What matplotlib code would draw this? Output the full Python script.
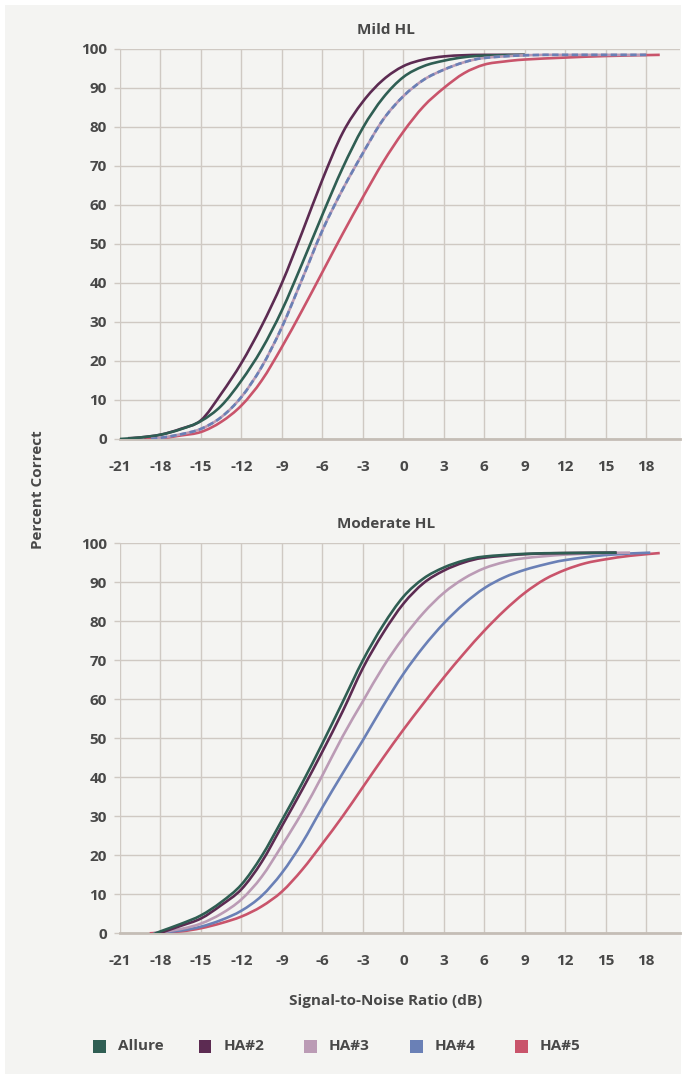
import matplotlib
matplotlib.use('Agg')
import matplotlib.pyplot as plt
import numpy as np
from matplotlib.patches import Rectangle, PathPatch
from matplotlib.path import Path

# ---- data (SNR in dB, percent correct) ----
series_names = ["Allure", "HA#2", "HA#3", "HA#4", "HA#5"]
series_colors = ["#2f5e53", "#5c2b52", "#bb9bb5", "#6a80b6", "#c9546b"]

x_ticks = [-21, -18, -15, -12, -9, -6, -3, 0, 3, 6, 9, 12, 15, 18]
y_ticks = [0, 10, 20, 30, 40, 50, 60, 70, 80, 90, 100]

# Mild HL
mild_x_allure = [-21, -19.5, -18, -16.5, -15, -13.5, -12, -10.5, -9, -7.5, -6, -4.5, -3, -1.5, 0, 1.5, 3, 4.5, 6, 9]
mild_allure = [0, 0.4, 1.1, 2.5, 4.6, 8.5, 15, 23, 33, 45, 57.5, 69.5, 79.8, 87.5, 92.8, 95.6, 97, 97.9, 98.3, 98.5]

mild_x_ha2 = [-20.4, -19.5, -18, -16.5, -15, -13.5, -12, -10.5, -9, -7.5, -6, -4.5, -3, -1.5, 0, 1.5, 3, 4.5, 6, 9]
mild_ha2 = [0.2, 0.4, 1.1, 2.6, 4.8, 11.6, 19.5, 29, 40, 53, 66.5, 78.5, 86.5, 92.1, 95.6, 97.3, 98.1, 98.4, 98.5, 98.5]

mild_x_ha3 = [-18.7, -18, -16.5, -15, -13.5, -12, -10.5, -9, -7.5, -6, -4.5, -3, -1.5, 0, 1.5, 3, 4.5, 6, 9, 12, 15, 18]
mild_ha3 = [0, 0.3, 1.2, 2.6, 5.6, 10.8, 18.5, 28.7, 41, 53.5, 64, 73.3, 81.9, 87.9, 92.1, 94.7, 96.6, 97.7, 98.4, 98.5, 98.5, 98.5]

# HA#4 overlaps HA#3 in the mild panel (drawn dashed on top)
mild_x_ha4 = [-18.7, -18, -16.5, -15, -13.5, -12, -10.5, -9, -7.5, -6, -4.5, -3, -1.5, 0, 1.5, 3, 4.5, 6, 9, 12, 15, 18]
mild_ha4 = [0, 0.3, 1.2, 2.6, 5.6, 10.8, 18.5, 28.7, 41, 53.5, 64, 73.3, 81.9, 87.9, 92.1, 94.7, 96.6, 97.7, 98.4, 98.5, 98.5, 98.5]

mild_x_ha5 = [-19.2, -18, -16.5, -15, -13.5, -12, -10.5, -9, -7.5, -6, -4.5, -3, -1.5, 0, 1.5, 3, 4.5, 6, 7.5, 9, 12, 15, 19]
mild_ha5 = [0, 0.2, 0.9, 1.8, 4.4, 8.6, 15, 23.6, 33, 42.8, 52.6, 62, 71, 78.8, 85.3, 90, 93.8, 96, 96.8, 97.3, 97.8, 98.2, 98.5]

# Moderate HL
mod_x_allure = [-18.7, -18, -16.5, -15, -13.5, -12, -10.5, -9, -7.5, -6, -4.5, -3, -1.5, 0, 1.5, 3, 4.5, 6, 9, 12, 15.8]
mod_allure = [-0.5, 0.5, 2.4, 4.6, 8, 12.5, 19.8, 29, 38.5, 48.7, 59.3, 70, 79, 86.3, 91, 93.8, 95.6, 96.6, 97.3, 97.5, 97.6]

mod_x_ha2 = [-18.4, -18, -16.5, -15, -13.5, -12, -10.5, -9, -7.5, -6, -4.5, -3, -1.5, 0, 1.5, 3, 4.5, 6, 9, 12, 15.8]
mod_ha2 = [-0.5, 0.1, 1.9, 3.8, 7.2, 11.3, 18.3, 27.5, 36.8, 46.6, 56.9, 68, 77, 84.5, 89.8, 93, 95.1, 96.3, 97.2, 97.5, 97.6]

mod_x_ha3 = [-18.5, -16.5, -15, -13.5, -12, -10.5, -9, -7.5, -6, -4.5, -3, -1.5, 0, 1.5, 3, 4.5, 6, 7.5, 9, 12, 15, 16.8]
mod_ha3 = [0, 1.1, 2.5, 5, 8.7, 14.5, 22.5, 31, 40.5, 50.5, 59.5, 68.3, 75.8, 82.2, 87.3, 91, 93.6, 95.2, 96.2, 97.1, 97.5, 97.6]

mod_x_ha4 = [-18.5, -16.5, -15, -13.5, -12, -10.5, -9, -7.5, -6, -4.5, -3, -1.5, 0, 1.5, 3, 4.5, 6, 7.5, 9, 10.5, 12, 15, 18.3]
mod_ha4 = [0, 0.7, 1.7, 3.4, 5.8, 9.6, 15.5, 23.2, 32.3, 41, 49.5, 58.3, 66.5, 73.5, 79.5, 84.5, 88.5, 91.3, 93.2, 94.6, 95.7, 97, 97.6]

mod_x_ha5 = [-18.8, -16.5, -15, -13.5, -12, -10.5, -9, -7.5, -6, -4.5, -3, -1.5, 0, 1.5, 3, 4.5, 6, 7.5, 9, 10.5, 12, 13.5, 15, 16.8, 19]
mod_ha5 = [0, 0.5, 1.3, 2.6, 4.3, 6.9, 10.7, 16.3, 23, 30, 37.5, 45, 52.2, 59, 65.6, 71.8, 77.6, 82.8, 87.3, 90.8, 93.2, 94.9, 95.9, 96.8, 97.5]

# ---- styling ----
BG = "#f4f4f2"
GRID = "#cfc9c3"
BASE = "#c4bdb6"
TXT = "#484848"
FS = 11
plt.rcParams['font.family'] = ["Open Sans", "DejaVu Sans"]
plt.rcParams['axes.unicode_minus'] = False

W, H = 686, 1079
fig = plt.figure(figsize=(W / 100, H / 100), dpi=100, facecolor="white")
fig.patches.append(Rectangle((5 / W, 5 / H), 1 - 10 / W, 1 - 10 / H,
                             transform=fig.transFigure, facecolor=BG,
                             edgecolor="none", zorder=-10))


def style_axes(ax):
    ax.set_facecolor(BG)
    ax.set_xlim(-21, 20.5)
    ax.set_ylim(0, 100)
    ax.set_xticks(x_ticks)
    ax.set_yticks(y_ticks)
    ax.grid(True, color=GRID, linewidth=1.0)
    ax.set_axisbelow(True)
    for side in ["top", "right", "left"]:
        ax.spines[side].set_visible(False)
    ax.spines["bottom"].set_color(BASE)
    ax.spines["bottom"].set_linewidth(2.0)
    ax.spines["bottom"].set_zorder(1.5)
    ax.tick_params(axis="x", length=0, pad=15, labelsize=FS, labelcolor=TXT)
    ax.tick_params(axis="y", length=4.5, width=1.0, color=GRID, pad=5,
                   labelsize=FS, labelcolor=TXT)
    for lab in ax.get_xticklabels() + ax.get_yticklabels():
        lab.set_fontweight("bold")


def smooth_line(ax, xs, ys, color, lw=1.9, ls="solid", z=3):
    # smoothed line through the points, like a spreadsheet "smoothed line"
    pts = np.column_stack([xs, ys]).astype(float)
    n = len(pts)
    verts = [pts[0]]
    codes = [Path.MOVETO]
    for i in range(n - 1):
        p0 = pts[i - 1] if i > 0 else pts[i]
        p1, p2 = pts[i], pts[i + 1]
        p3 = pts[i + 2] if i + 2 < n else pts[i + 1]
        verts += [p1 + (p2 - p0) / 6, p2 - (p3 - p1) / 6, p2]
        codes += [Path.CURVE4] * 3
    ax.add_patch(PathPatch(Path(verts, codes), fill=False, edgecolor=color,
                           lw=lw, linestyle=ls, zorder=z, capstyle="butt"))


ax_top = fig.add_axes([120 / W, 1 - 439 / H, 560 / W, 390 / H])
ax_bot = fig.add_axes([120 / W, 1 - 933.3 / H, 560 / W, 390 / H])
style_axes(ax_top)
style_axes(ax_bot)

c_all, c_ha2, c_ha3, c_ha4, c_ha5 = series_colors

# Mild HL
smooth_line(ax_top, mild_x_ha5, mild_ha5, c_ha5, z=3)
smooth_line(ax_top, mild_x_ha2, mild_ha2, c_ha2, z=4)
smooth_line(ax_top, mild_x_allure, mild_allure, c_all, z=5)
smooth_line(ax_top, mild_x_ha3, mild_ha3, c_ha3, z=6)
smooth_line(ax_top, mild_x_ha4, mild_ha4, c_ha4, ls=(0, (2.4, 1.3)), z=7)

# Moderate HL
smooth_line(ax_bot, mod_x_ha5, mod_ha5, c_ha5, z=3)
smooth_line(ax_bot, mod_x_ha4, mod_ha4, c_ha4, z=4)
smooth_line(ax_bot, mod_x_ha3, mod_ha3, c_ha3, z=5)
smooth_line(ax_bot, mod_x_ha2, mod_ha2, c_ha2, z=6)
smooth_line(ax_bot, mod_x_allure, mod_allure, c_all, z=7)

# titles and labels
cx = 386 / W
txt_kw = dict(fontsize=FS, fontweight="bold", color=TXT, va="center")
fig.text(cx, 1 - 30 / H, "Mild HL", ha="center", **txt_kw)
fig.text(cx, 1 - 524 / H, "Moderate HL", ha="center", **txt_kw)
fig.text(38 / W, 1 - 490 / H, "Percent Correct", rotation=90, ha="center", **txt_kw)
fig.text(cx, 1 - 1001 / H, "Signal-to-Noise Ratio (dB)", ha="center", **txt_kw)

# legend (square swatches)
leg_y = 1046
for i, (name, col) in enumerate(zip(series_names, series_colors)):
    x0 = 93 + i * 105.5
    fig.patches.append(Rectangle((x0 / W, 1 - (leg_y + 6.5) / H), 13 / W, 13 / H,
                                 transform=fig.transFigure, facecolor=col,
                                 edgecolor="none"))
    fig.text((x0 + 25) / W, 1 - leg_y / H, name, ha="left", **txt_kw)

fig.savefig("out.png", dpi=100, facecolor=fig.get_facecolor())
plt.close(fig)
